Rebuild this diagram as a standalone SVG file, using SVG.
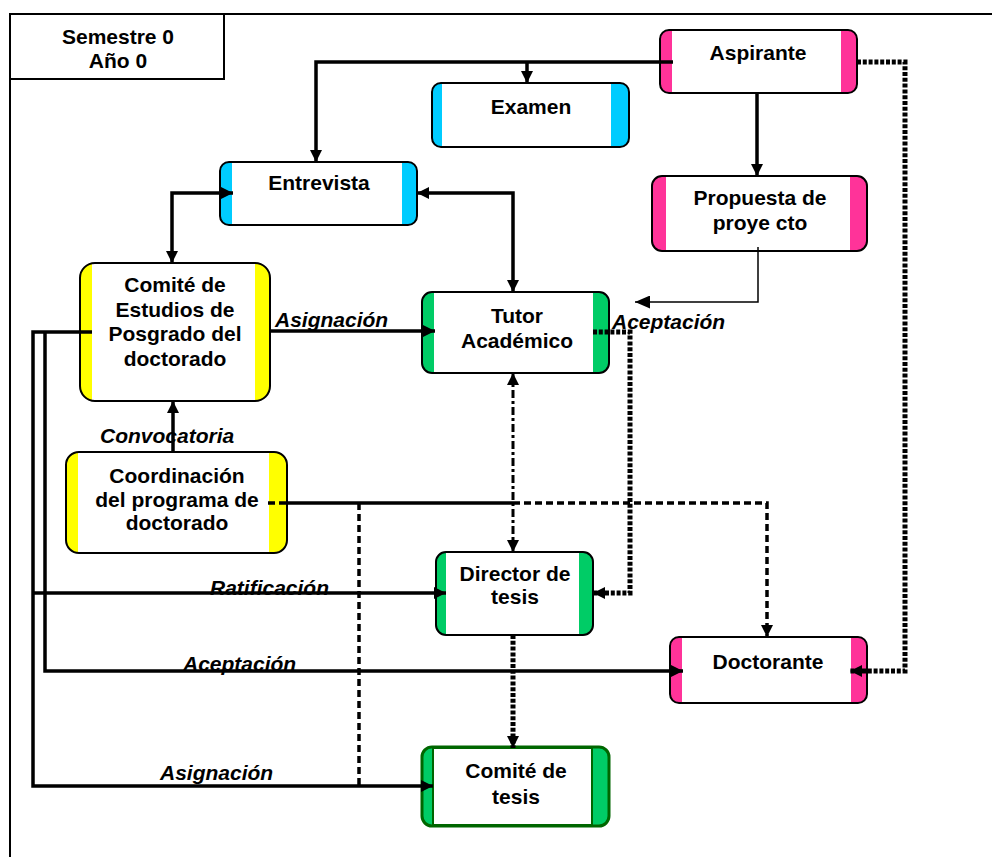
<svg xmlns="http://www.w3.org/2000/svg" width="992" height="857" viewBox="0 0 992 857">
<style>
text{font-family:"Liberation Sans",Arial,sans-serif;font-weight:bold;font-size:21px;fill:#000}
.t{text-anchor:middle}
.lbl{font-style:italic}
.ol{fill:none;stroke:#000;stroke-width:2}
.w{fill:#fff}
.pk{fill:#FF3399}
.cy{fill:#00CCFF}
.ye{fill:#FFFF00}
.gr{fill:#00CC66}
.c{fill:none;stroke:#000;stroke-width:3.5}
.thin{fill:none;stroke:#000;stroke-width:1.5}
.dash{fill:none;stroke:#000;stroke-width:3.5;stroke-dasharray:7 4}
.dd{fill:none;stroke:#000;stroke-width:3;stroke-dasharray:8 3 3 3}
.dot{fill:none;stroke:#000;stroke-width:5;stroke-dasharray:4 1.8}
</style>
<defs>
<marker id="a" viewBox="0 0 10 10" refX="10" refY="5" markerWidth="12" markerHeight="12" markerUnits="userSpaceOnUse" orient="auto-start-reverse"><path d="M0,0L10,5L0,10z" fill="#000"/></marker>
<marker id="aL" viewBox="0 0 10 10" refX="10" refY="5" markerWidth="15" markerHeight="13" markerUnits="userSpaceOnUse" orient="auto-start-reverse" preserveAspectRatio="none"><path d="M0,0L10,5L0,10z" fill="#000"/></marker>
</defs>
<rect width="992" height="857" fill="#fff"/>
<g id="frame">
<path d="M10,857V14H992" fill="none" stroke="#000" stroke-width="2"/>
<path d="M10,79H224V14" fill="none" stroke="#000" stroke-width="2"/>
<text class="t" x="118" y="44">Semestre 0</text>
<text class="t" x="118" y="68">Año 0</text>
</g>
<g id="aspirante">
<rect class="pk" x="660" y="30" width="197" height="63" rx="9"/>
<rect class="w" x="672" y="31" width="169" height="61"/>
<rect class="ol" x="660" y="30" width="197" height="63" rx="9"/>
<text class="t" x="758" y="60">Aspirante</text>
</g>
<g id="examen">
<rect class="cy" x="432" y="83" width="197" height="64" rx="9"/>
<rect class="w" x="442" y="84" width="169" height="62"/>
<rect class="ol" x="432" y="83" width="197" height="64" rx="9"/>
<text class="t" x="531" y="114">Examen</text>
</g>
<g id="propuesta">
<rect class="pk" x="652" y="176" width="215" height="75" rx="10"/>
<rect class="w" x="666" y="177" width="184" height="73"/>
<rect class="ol" x="652" y="176" width="215" height="75" rx="10"/>
<text class="t" x="760" y="205">Propuesta de</text>
<text class="t" x="760" y="230">proye cto</text>
</g>
<g id="entrevista">
<rect class="cy" x="220" y="162" width="197" height="63" rx="9"/>
<rect class="w" x="232" y="163" width="170" height="61"/>
<rect class="ol" x="220" y="162" width="197" height="63" rx="9"/>
<text class="t" x="319" y="190">Entrevista</text>
</g>
<g id="comite-estudios">
<rect class="ye" x="80" y="263" width="190" height="138" rx="15"/>
<rect class="w" x="92" y="264" width="163" height="136"/>
<rect class="ol" x="80" y="263" width="190" height="138" rx="15"/>
<text class="t" x="175" y="292">Comité de</text>
<text class="t" x="175" y="317">Estudios de</text>
<text class="t" x="175" y="341">Posgrado del</text>
<text class="t" x="175" y="366">doctorado</text>
</g>
<g id="tutor">
<rect class="gr" x="422" y="292" width="187" height="81" rx="10"/>
<rect class="w" x="434" y="293" width="159" height="79"/>
<rect class="ol" x="422" y="292" width="187" height="81" rx="10"/>
<text class="t" x="517" y="323">Tutor</text>
<text class="t" x="517" y="348">Académico</text>
</g>
<g id="coordinacion">
<rect class="ye" x="66" y="452" width="221" height="101" rx="13"/>
<rect class="w" x="78" y="453" width="191" height="99"/>
<rect class="ol" x="66" y="452" width="221" height="101" rx="13"/>
<text class="t" x="177" y="483">Coordinación</text>
<text class="t" x="177" y="507">del programa de</text>
<text class="t" x="177" y="530">doctorado</text>
</g>
<g id="director">
<rect class="gr" x="436" y="552" width="157" height="83" rx="10"/>
<rect class="w" x="446" y="553" width="133" height="81"/>
<rect class="ol" x="436" y="552" width="157" height="83" rx="10"/>
<text class="t" x="515" y="581">Director de</text>
<text class="t" x="515" y="604">tesis</text>
</g>
<g id="doctorante">
<rect class="pk" x="670" y="637" width="197" height="66" rx="9"/>
<rect class="w" x="682" y="638" width="169" height="64"/>
<rect class="ol" x="670" y="637" width="197" height="66" rx="9"/>
<text class="t" x="768" y="669">Doctorante</text>
</g>
<g id="comite-tesis">
<rect class="gr" x="422" y="747" width="187" height="79" rx="10" stroke="#006600" stroke-width="3"/>
<rect x="433" y="748" width="159" height="77" fill="#fff" stroke="#006600" stroke-width="2"/>
<text class="t" x="516" y="778">Comité de</text>
<text class="t" x="516" y="804">tesis</text>
</g>
<g id="labels">
<text class="lbl" x="275" y="327">Asignación</text>
<text class="lbl" x="612" y="329">Aceptación</text>
<text class="lbl" x="100" y="443">Convocatoria</text>
<text class="lbl" x="210" y="595">Ratificación</text>
<text class="lbl" x="183" y="671">Aceptación</text>
<text class="lbl" x="160" y="780">Asignación</text>
</g>
<g id="connectors">
<path class="c" d="M673,62H316V162" marker-end="url(#a)"/>
<path class="c" d="M527,62V83" marker-end="url(#a)"/>
<path class="c" d="M757,93V176" marker-end="url(#a)"/>
<path class="thin" d="M758,247V302H635" marker-end="url(#aL)"/>
<path class="c" d="M417,193H513V292" marker-start="url(#a)" marker-end="url(#a)"/>
<path class="c" d="M172,263V193H233" marker-start="url(#a)" marker-end="url(#a)"/>
<path class="c" d="M270,331H435" marker-end="url(#a)"/>
<path class="c" d="M173,452V401" marker-end="url(#a)"/>
<path class="c" d="M92,332H33V786H433" marker-end="url(#a)"/>
<path class="c" d="M45,332V671H683" marker-end="url(#a)"/>
<path class="c" d="M33,593H446" marker-end="url(#a)"/>
<path class="dash" d="M268,503H287"/>
<path class="c" d="M287,503H513"/>
<path class="dash" d="M513,503H767V637" marker-end="url(#a)"/>
<path class="dash" d="M359,503V786"/>
<path class="dd" d="M513,373V552" marker-start="url(#a)" marker-end="url(#a)"/>
<path class="dot" d="M593,332H630V593H593" marker-end="url(#a)"/>
<path class="dot" d="M857,62H905V671H850" marker-end="url(#a)"/>
<path class="dot" d="M513,635V748" marker-end="url(#a)"/>
</g>
</svg>
